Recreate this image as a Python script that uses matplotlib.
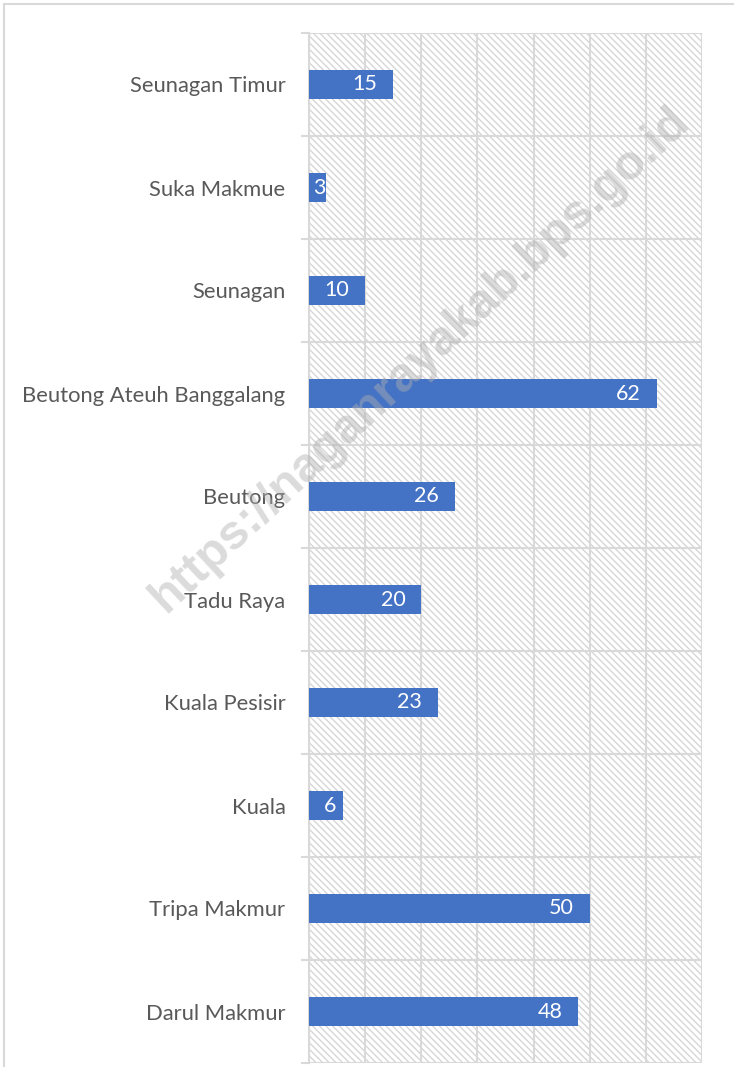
import matplotlib
matplotlib.use("Agg")
import matplotlib.pyplot as plt
from matplotlib.patches import Rectangle
from matplotlib.lines import Line2D
import numpy as np

categories = ["Seunagan Timur", "Suka Makmue", "Seunagan", "Beutong Ateuh Banggalang",
              "Beutong", "Tadu Raya", "Kuala Pesisir", "Kuala", "Tripa Makmur", "Darul Makmur"]
values = [15, 3, 10, 62, 26, 20, 23, 6, 50, 48]
xticks = [0, 10, 20, 30, 40, 50, 60, 70]

plt.rcParams['font.family'] = ['Lato', 'DejaVu Sans']
plt.rcParams['hatch.color'] = '#d6d6d6'
plt.rcParams['hatch.linewidth'] = 1.0

W, H = 734, 1067
fig = plt.figure(figsize=(W/100, H/100), dpi=100)
ax = fig.add_axes([309/W, 1-1063/H, (702-309)/W, (1063-33)/H])

n = len(categories)
y = np.arange(n)[::-1]

# hatched plot area
ax.add_patch(Rectangle((0, 0), 1, 1, transform=ax.transAxes, facecolor='white',
                       edgecolor='#d6d6d6', hatch='\\\\\\\\\\', linewidth=0, zorder=0))

ax.set_xlim(0, 70)
ax.set_ylim(-0.5, n - 0.5)

ax.barh(y, values, height=0.29, color='#4472C4', zorder=3)
fig.canvas.draw()
x0_px = ax.transData.transform((0, 0))[0]
for yi, v in zip(y, values):
    bar_px = ax.transData.transform((v, 0))[0] - x0_px
    pad = float(np.clip(bar_px - 27, 0, 16))
    ax.annotate(str(v), (v, yi), xytext=(-pad, 0), textcoords='offset pixels',
                ha='right', va='center', color='white', fontsize=15.5, zorder=12)

ax.set_xticks(xticks)
ax.set_xticklabels([])
ax.tick_params(axis='x', length=0)
ax.set_yticks(y)
ax.set_yticklabels(categories, fontsize=15.8, color='#595959')
for t in ax.get_yticklabels():
    t.set_zorder(12)
ax.tick_params(axis='y', which='major', length=0, pad=17)
ax.set_yticks(np.arange(-0.5, n, 1), minor=True)
ax.tick_params(axis='y', which='minor', length=6, width=1.5, color='#d9d9d9', direction='out')
ax.grid(axis='x', which='major', color='#d9d9d9', linewidth=1.5, zorder=1)
ax.grid(axis='y', which='minor', color='#d9d9d9', linewidth=1.5, zorder=1)
ax.set_axisbelow(True)
for s in ['top', 'right', 'bottom']:
    ax.spines[s].set_visible(False)
ax.spines['left'].set_color('#d9d9d9')
ax.spines['left'].set_linewidth(1.5)
ax.spines['left'].set_zorder(2)

# chart border
fig.add_artist(Line2D([4/W, 4/W], [0, 1-4/H], color='#d9d9d9', linewidth=1.5))
fig.add_artist(Line2D([4/W, 1], [1-4/H, 1-4/H], color='#d9d9d9', linewidth=1.5))

# watermark
fig.text(420/W, 1-360/H, "https://naganrayakab.bps.go.id", rotation=43, ha='center', va='center',
         fontsize=35, fontweight='bold', color='#b0b0b0', alpha=0.45, zorder=10,
         family=['Liberation Sans', 'DejaVu Sans'])

fig.savefig("out.png", dpi=100)
